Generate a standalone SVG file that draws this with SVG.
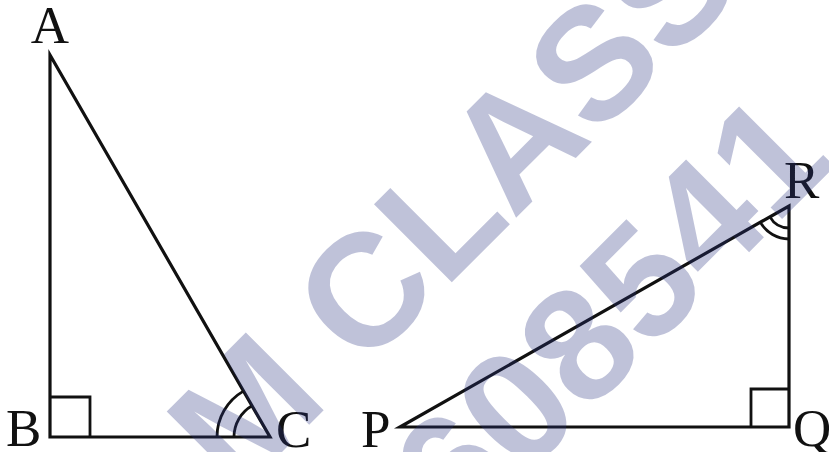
<svg xmlns="http://www.w3.org/2000/svg" width="829" height="452" viewBox="0 0 829 452">
<style>
.ln{fill:none;stroke:#111;stroke-width:3.2;stroke-linejoin:miter;stroke-linecap:butt}
.mk{fill:none;stroke:#111;stroke-width:2.8}
.lb{font-family:"Liberation Serif","Times New Roman",serif;font-size:53px;fill:#111}
.wm{font-family:"Liberation Sans",Arial,sans-serif;font-weight:bold;font-size:160px;fill:#2a3580;fill-opacity:0.3}
</style>
<rect width="829" height="452" fill="#fff"/>
<g id="triangle-ABC">
<path class="ln" d="M50,55 L50,437 L270,437 Z"/>
<path class="mk" d="M50,397 H90 V437"/>
<path class="mk" d="M217,437 A53,53 0 0 1 243.4,391.1"/>
<path class="mk" d="M234,437 A36,36 0 0 1 252,405.8"/>
</g>
<g id="triangle-PQR">
<path class="ln" d="M400,427 L789,427 L789,206 Z"/>
<path class="mk" d="M751,427 V389 H789"/>
<path class="mk" d="M789,239 A33,33 0 0 1 760.4,222.4"/>
<path class="mk" d="M789,228 A22,22 0 0 1 769.9,216.9"/>
</g>
<g id="labels">
<text class="lb" x="50" y="43" text-anchor="middle">A</text>
<text class="lb" x="6" y="446">B</text>
<text class="lb" x="276" y="447">C</text>
<text class="lb" x="361" y="447">P</text>
<text class="lb" x="793" y="446">Q</text>
<text class="lb" x="784" y="198">R</text>
</g>
<g id="watermark" transform="rotate(-45)">
<text class="wm" x="-184" y="519">M CLASS</text>
<text class="wm" x="-57" y="708">608541</text>
</g>
</svg>
